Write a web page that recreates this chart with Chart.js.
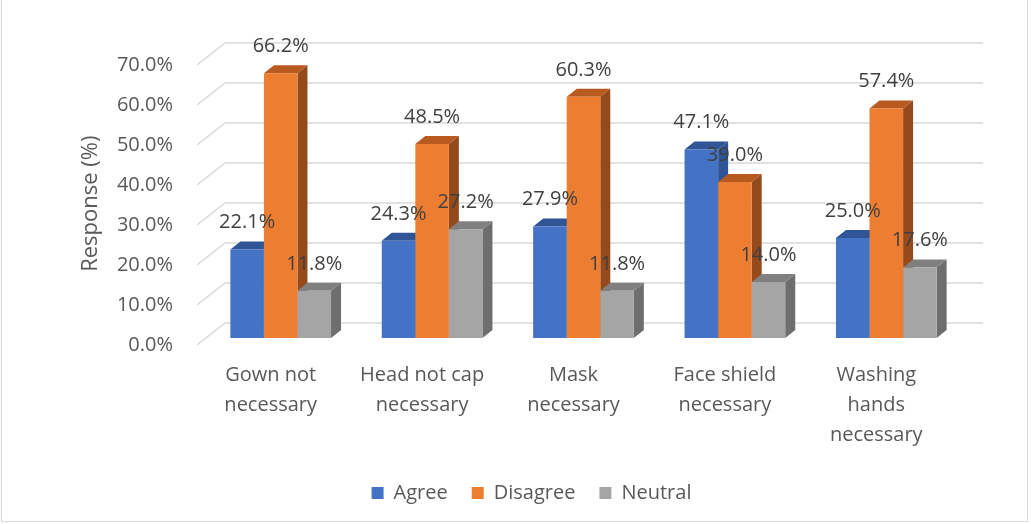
<!DOCTYPE html>
<html>
<head>
<meta charset="utf-8">
<script src="https://cdn.jsdelivr.net/npm/chart.js@4.4.0/dist/chart.umd.min.js"></script>
<style>
    html, body { margin: 0; padding: 0; background: #ffffff; }
    #wrap { position: relative; width: 1031px; height: 524px; }
</style>
</head>
<body>
<div id="wrap"><canvas id="ppe-chart"></canvas></div>
<script>
// data
const categories = [
    ['Gown not', 'necessary'],
    ['Head not cap', 'necessary'],
    ['Mask', 'necessary'],
    ['Face shield', 'necessary'],
    ['Washing', 'hands', 'necessary']
];
const agreeValues = [22.1, 24.3, 27.9, 47.1, 25.0];
const disagreeValues = [66.2, 48.5, 60.3, 39.0, 57.4];
const neutralValues = [11.8, 27.2, 11.8, 14.0, 17.6];
const yTickLabels = ['0.0%', '10.0%', '20.0%', '30.0%', '40.0%', '50.0%', '60.0%', '70.0%'];

// fake 3d depth
const DX = 10;
const DY = 8;
const FONT = '"Open Sans", "Liberation Sans", sans-serif';

const bar3d = {
    id: 'bar3d',
    afterLayout(chart) {
        // legend sits a little right of the plot centre in the original
        chart.legend.left += 13;
        chart.legend.right += 13;
    },
    beforeDatasetsDraw(chart) {
        const { ctx, chartArea, scales: { y } } = chart;
        ctx.save();
        // wall + back grid lines
        ctx.strokeStyle = '#d9d9d9';
        ctx.lineWidth = 1.5;
        y.ticks.forEach(t => {
            const p = y.getPixelForValue(t.value);
            ctx.beginPath();
            ctx.moveTo(chartArea.left - 8, p + 7);
            ctx.lineTo(chartArea.left + 20, p - 15);
            ctx.lineTo(chartArea.right + 21, p - 15);
            ctx.stroke();
        });
        // side and top faces, group by group
        for (let i = 0; i < chart.data.labels.length; i++) {
            chart.data.datasets.forEach((ds, d) => {
                const el = chart.getDatasetMeta(d).data[i];
                const L = el.x - el.width / 2;
                const R = el.x + el.width / 2;
                const T = el.y;
                const B = el.base;
                ctx.fillStyle = ds.sideColor;
                ctx.beginPath();
                ctx.moveTo(R, B);
                ctx.lineTo(R + DX, B - DY);
                ctx.lineTo(R + DX, T - DY);
                ctx.lineTo(R, T);
                ctx.closePath();
                ctx.fill();
                ctx.fillStyle = ds.topColor;
                ctx.beginPath();
                ctx.moveTo(L, T);
                ctx.lineTo(R, T);
                ctx.lineTo(R + DX, T - DY);
                ctx.lineTo(L + DX, T - DY);
                ctx.closePath();
                ctx.fill();
            });
        }
        ctx.restore();
    },
    afterDatasetsDraw(chart) {
        const { ctx } = chart;
        ctx.save();
        ctx.font = '20px ' + FONT;
        ctx.fillStyle = '#404040';
        ctx.textAlign = 'center';
        ctx.textBaseline = 'middle';
        chart.data.datasets.forEach((ds, d) => {
            chart.getDatasetMeta(d).data.forEach((el, i) => {
                ctx.fillText(ds.data[i].toFixed(1) + '%', el.x, el.y - 27);
            });
        });
        ctx.restore();
    },
    afterDraw(chart) {
        const { ctx } = chart;
        ctx.save();
        ctx.strokeStyle = '#d9d9d9';
        ctx.lineWidth = 1;
        ctx.strokeRect(1.5, -5, 1026, 526.5);
        ctx.restore();
    }
};

const ctx = document.getElementById('ppe-chart').getContext('2d');
new Chart(ctx, {
    type: 'bar',
    data: {
        labels: categories,
        datasets: [
            { label: 'Agree', data: agreeValues, backgroundColor: '#4472C4', sideColor: '#2F5597', topColor: '#2F5597' },
            { label: 'Disagree', data: disagreeValues, backgroundColor: '#ED7D31', sideColor: '#954A1C', topColor: '#B8591F' },
            { label: 'Neutral', data: neutralValues, backgroundColor: '#A5A5A5', sideColor: '#6E6E6E', topColor: '#808080' }
        ]
    },
    plugins: [bar3d],
    options: {
        responsive: true,
        maintainAspectRatio: false,
        animation: false,
        categoryPercentage: 0.665,
        barPercentage: 1.0,
        layout: {
            padding: { left: 75, right: 69, top: 58, bottom: 11 }
        },
        plugins: {
            legend: {
                position: 'bottom',
                labels: {
                    boxWidth: 12,
                    boxHeight: 12,
                    padding: 24,
                    color: '#595959',
                    font: { size: 20, family: FONT }
                }
            },
            tooltip: { enabled: false }
        },
        scales: {
            x: {
                grid: { display: false, drawTicks: false },
                border: { display: false },
                ticks: {
                    color: '#595959',
                    font: { size: 20, family: FONT, lineHeight: 1.5 },
                    padding: 22,
                    labelOffset: -10,
                    maxRotation: 0,
                    autoSkip: false
                },
                afterFit(scale) {
                    scale.height = 121;
                }
            },
            y: {
                min: 0,
                max: 70,
                grid: { display: false, drawTicks: false },
                border: { display: false },
                ticks: {
                    stepSize: 10,
                    color: '#595959',
                    font: { size: 20, family: FONT },
                    padding: 32,
                    labelOffset: 7,
                    callback: (value, index) => yTickLabels[index]
                },
                title: {
                    display: true,
                    text: 'Response (%)\u00a0\u00a0',
                    color: '#595959',
                    font: { size: 22, family: FONT },
                    padding: { top: 3, bottom: 4 }
                },
                afterFit(scale) {
                    scale.width = 130;
                }
            }
        }
    }
});
</script>
</body>
</html>
